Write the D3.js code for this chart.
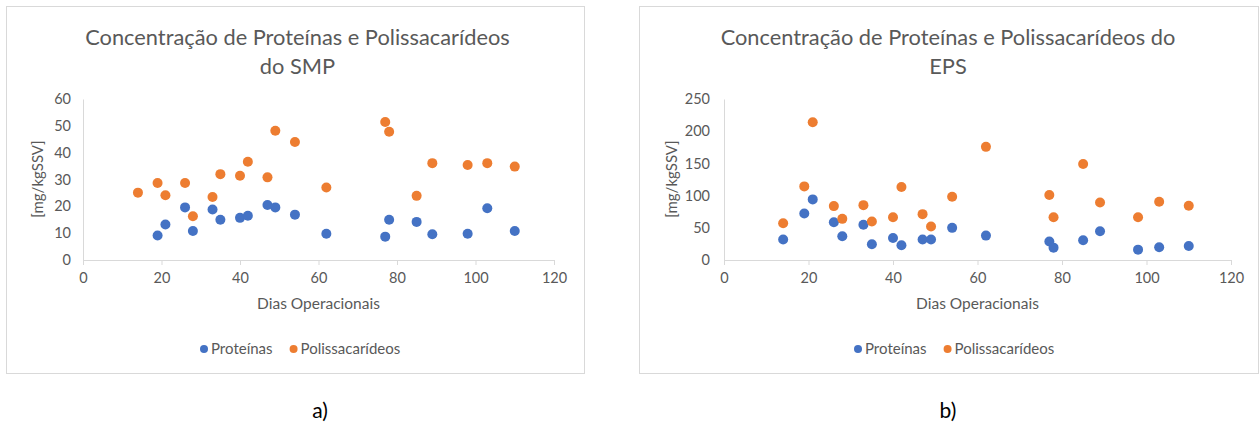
<!DOCTYPE html>
<html>
<head>
<meta charset="utf-8">
<script src="https://cdn.jsdelivr.net/npm/d3@7"></script>
<style>
  body { margin: 0; background: #fff; }
  text { font-family: Lato, "Open Sans", sans-serif; }
</style>
</head>
<body>
<svg id="chart" width="1260" height="426"></svg>
<script>
// operational days (x values)
const days = [14, 19, 21, 26, 28, 33, 35, 40, 42, 47, 49, 54, 62, 77, 78, 85, 89, 98, 103, 110];
// SMP proteins has no visible point on day 14
const smpProtDays = [19, 21, 26, 28, 33, 35, 40, 42, 47, 49, 54, 62, 77, 78, 85, 89, 98, 103, 110];
const smpProteinas = [9.1, 13.2, 19.6, 10.8, 18.8, 15.0, 15.7, 16.5, 20.5, 19.6, 16.9, 9.8, 8.7, 15.0, 14.2, 9.6, 9.8, 19.3, 10.8];
const smpPolissac = [25.1, 28.7, 24.1, 28.7, 16.3, 23.5, 32.0, 31.4, 36.6, 30.8, 48.2, 44.0, 27.0, 51.4, 47.8, 23.9, 36.1, 35.4, 36.1, 34.8];
const epsProteinas = [31.7, 72.2, 94.1, 58.7, 36.9, 54.6, 24.4, 34.3, 22.9, 31.7, 31.7, 49.9, 37.9, 28.6, 19.2, 30.7, 44.7, 16.1, 19.8, 21.8];
const epsPolissac = [57.2, 114.3, 214, 83.7, 63.9, 85.2, 59.8, 66.5, 113.3, 71.2, 52, 98.2, 175.7, 100.8, 66.5, 149, 89.4, 66.5, 90.4, 84.2];

const xTicks = [0, 20, 40, 60, 80, 100, 120];
const smpYTicks = [0, 10, 20, 30, 40, 50, 60];
const epsYTicks = [0, 50, 100, 150, 200, 250];

const seriesNames = ["Proteínas", "Polissacarídeos"];
const colors = ["#4472C4", "#ED7D31"];
const textColor = "#595959";
const lineColor = "#D9D9D9";

const svg = d3.select("#chart");

// draw one scatter panel
function drawPanel(opts) {
  const g = svg.append("g").attr("transform", `translate(${opts.x0}, 6)`);
  const w = opts.w, h = 368;
  const plot = { left: opts.plotLeft, right: opts.plotRight, top: 93, bottom: 254 };

  g.append("rect")
    .attr("x", 0.5).attr("y", 0.5)
    .attr("width", w - 1).attr("height", h - 1)
    .attr("fill", "#fff")
    .attr("stroke", lineColor);

  // title
  const title = g.append("text")
    .attr("x", w / 2 + opts.titleDx)
    .attr("y", 39)
    .attr("text-anchor", "middle")
    .attr("font-size", "21.8px")
    .attr("fill", textColor);
  opts.title.forEach((line, i) => {
    title.append("tspan")
      .attr("x", w / 2 + opts.titleDx)
      .attr("dy", i === 0 ? 0 : 29)
      .text(line);
  });

  const xScale = d3.scaleLinear()
    .domain([0, 120])
    .range([plot.left, plot.right]);

  const yScale = d3.scaleLinear()
    .domain([0, opts.yTicks[opts.yTicks.length - 1]])
    .range([plot.bottom, plot.top]);

  const xAxis = d3.axisBottom(xScale)
    .tickValues(xTicks)
    .tickSize(5)
    .tickSizeOuter(0)
    .tickPadding(8);

  const yAxis = d3.axisLeft(yScale)
    .tickValues(opts.yTicks)
    .tickSize(0)
    .tickPadding(opts.yPad);

  const gx = g.append("g")
    .attr("transform", `translate(0, ${plot.bottom})`)
    .call(xAxis);
  const gy = g.append("g")
    .attr("transform", `translate(${plot.left}, 0)`)
    .call(yAxis);

  [gx, gy].forEach(a => {
    a.select(".domain").attr("stroke", lineColor);
    a.selectAll(".tick line").attr("stroke", lineColor);
    a.selectAll(".tick text")
      .attr("fill", textColor)
      .attr("font-size", "14.5px")
      .attr("font-family", "Lato, sans-serif");
  });

  // axis labels
  g.append("text")
    .attr("x", (plot.left + plot.right) / 2)
    .attr("y", 303)
    .attr("text-anchor", "middle")
    .attr("font-size", "15.5px")
    .attr("fill", textColor)
    .text("Dias Operacionais");

  g.append("text")
    .attr("transform", "rotate(-90)")
    .attr("x", -173)
    .attr("y", opts.yLabelX)
    .attr("text-anchor", "middle")
    .attr("font-size", "15px")
    .attr("fill", textColor)
    .text("[mg/kgSSV]");

  // points
  opts.series.forEach((s, i) => {
    g.append("g")
      .selectAll("circle")
      .data(s.x.map((d, j) => ({ x: d, y: s.y[j] })))
      .join("circle")
        .attr("cx", d => xScale(d.x))
        .attr("cy", d => yScale(d.y))
        .attr("r", 5)
        .attr("fill", colors[i]);
  });

  // legend
  const legend = g.append("g").attr("transform", `translate(${opts.legendX}, 343)`);
  let lx = 0;
  seriesNames.forEach((name, i) => {
    legend.append("circle")
      .attr("cx", lx + 4)
      .attr("cy", 0)
      .attr("r", 4)
      .attr("fill", colors[i]);
    const t = legend.append("text")
      .attr("x", lx + 11)
      .attr("y", 5)
      .attr("font-size", "15px")
      .attr("fill", textColor)
      .text(name);
    lx += 11 + t.node().getComputedTextLength() + 17;
  });

  // panel label
  svg.append("text")
    .attr("x", opts.x0 + opts.labelX)
    .attr("y", 418)
    .attr("text-anchor", "middle")
    .attr("font-size", "21px")
    .attr("fill", "#000")
    .text(opts.label);
}

drawPanel({
  x0: 6, w: 579, titleDx: 2, plotLeft: 77, plotRight: 548, yPad: 12, yLabelX: 37,
  title: ["Concentração de Proteínas e Polissacarídeos", "do SMP"],
  yTicks: smpYTicks,
  series: [{ x: smpProtDays, y: smpProteinas }, { x: days, y: smpPolissac }],
  legendX: 194, label: "a)", labelX: 314
});

drawPanel({
  x0: 639, w: 620, titleDx: -1, plotLeft: 85, plotRight: 592, yPad: 14, yLabelX: 38,
  title: ["Concentração de Proteínas e Polissacarídeos do", "EPS"],
  yTicks: epsYTicks,
  series: [{ x: days, y: epsProteinas }, { x: days, y: epsPolissac }],
  legendX: 215, label: "b)", labelX: 309
});
</script>
</body>
</html>
